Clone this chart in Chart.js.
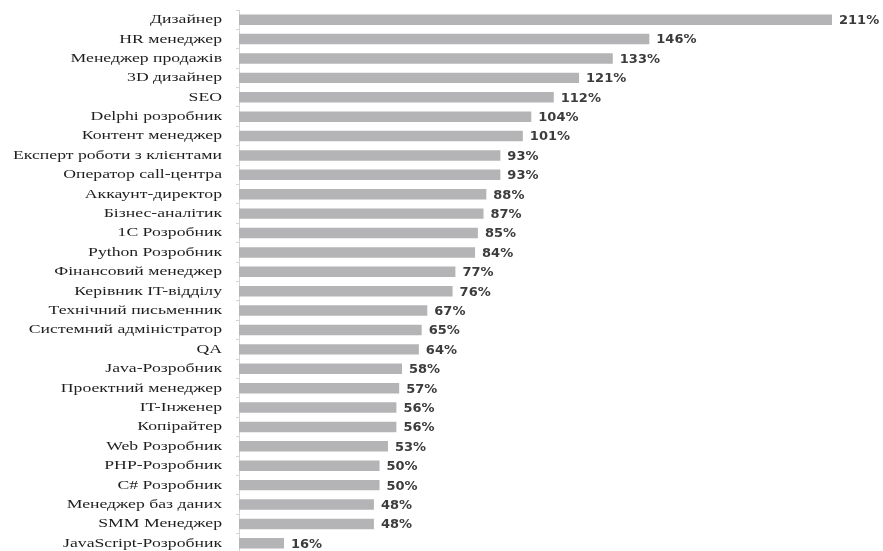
<!DOCTYPE html>
<html>
<head>
<meta charset="utf-8">
<script src="https://cdn.jsdelivr.net/npm/chart.js@4.4.0/dist/chart.umd.min.js"></script>
<style>
    html, body { margin: 0; padding: 0; background: #fff; overflow: hidden; }
    #wrap { width: 883px; height: 553px; position: relative; }
</style>
</head>
<body>
<div id="wrap"><canvas id="salaryChart"></canvas></div>
<script>
// Categories top to bottom
const professions = [
    'Дизайнер', 'HR менеджер', 'Менеджер продажів', '3D дизайнер', 'SEO',
    'Delphi розробник', 'Контент менеджер', 'Експерт роботи з клієнтами',
    'Оператор call-центра', 'Аккаунт-директор', 'Бізнес-аналітик', '1C Розробник',
    'Python Розробник', 'Фінансовий менеджер', 'Керівник IT-відділу',
    'Технічний письменник', 'Системний адміністратор', 'QA', 'Java-Розробник',
    'Проектний менеджер', 'IT-Інженер', 'Копірайтер', 'Web Розробник',
    'PHP-Розробник', 'C# Розробник', 'Менеджер баз даних', 'SMM Менеджер',
    'JavaScript-Розробник'
];
// Growth, percent
const growth = [
    211, 146, 133, 121, 112, 104, 101, 93, 93, 88, 87, 85, 84, 77, 76,
    67, 65, 64, 58, 57, 56, 56, 53, 50, 50, 48, 48, 16
];

// draws "NN%" right after each bar
const valueLabels = {
    id: 'valueLabels',
    afterDatasetsDraw(chart) {
        const ctx = chart.ctx;
        const meta = chart.getDatasetMeta(0);
        ctx.save();
        ctx.font = 'bold 13px "DejaVu Sans"';
        ctx.fillStyle = '#3c3c3c';
        ctx.textAlign = 'left';
        ctx.textBaseline = 'middle';
        meta.data.forEach((bar, i) => {
            ctx.fillText(growth[i] + '%', bar.x + 7, bar.y + 1);
        });
        ctx.restore();
    }
};

// category names, the source image is stretched wide so the text is too
const stretchedLabels = {
    id: 'stretchedLabels',
    afterDraw(chart) {
        const ctx = chart.ctx;
        const yScale = chart.scales.y;
        const right = yScale.right - 17;
        const sx = 1.36;
        ctx.save();
        ctx.font = '13px "Liberation Serif", "Times New Roman", serif';
        ctx.fillStyle = '#1e1e1e';
        ctx.textAlign = 'right';
        ctx.textBaseline = 'middle';
        ctx.scale(sx, 1);
        chart.data.labels.forEach((lab, i) => {
            ctx.fillText(lab, right / sx, yScale.getPixelForTick(i));
        });
        ctx.restore();
    }
};

window.addEventListener('DOMContentLoaded', function() {
    const ctx = document.getElementById('salaryChart').getContext('2d');
    window.currentChart = new Chart(ctx, {
        type: 'bar',
        data: {
            labels: professions,
            datasets: [{
                data: growth,
                backgroundColor: '#b4b4b6',
                borderWidth: 0,
                barPercentage: 0.54,
                categoryPercentage: 1
            }]
        },
        options: {
            indexAxis: 'y',
            responsive: true,
            maintainAspectRatio: false,
            animation: false,
            layout: { padding: { top: 10, right: 51, bottom: 0, left: 0 } },
            plugins: {
                legend: { display: false },
                tooltip: { enabled: false }
            },
            scales: {
                x: {
                    display: false,
                    min: 0,
                    max: 211
                },
                y: {
                    afterFit: function(scale) {
                        scale.width = 239;
                        scale.paddingTop = 0;
                        scale.paddingBottom = 0;
                    },
                    border: { display: true, color: '#d4d4d4', width: 1 },
                    grid: {
                        display: true,
                        offset: true,
                        drawOnChartArea: false,
                        drawTicks: true,
                        tickLength: 3,
                        color: '#d4d4d4'
                    },
                    ticks: { display: false }
                }
            }
        },
        plugins: [valueLabels, stretchedLabels]
    });
});
</script>
</body>
</html>
